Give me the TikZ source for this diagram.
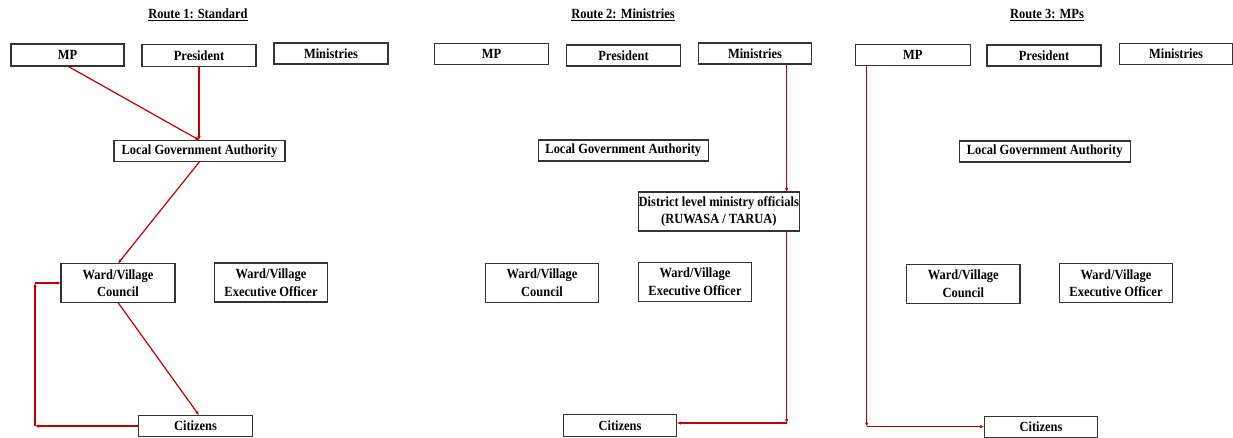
\documentclass[tikz,border=0pt]{standalone}
\usepackage{fontspec}
\setmainfont{Liberation Serif}[FakeStretch=0.89]
\usetikzlibrary{arrows.meta,calc}
\definecolor{linkred}{HTML}{C00000}
\definecolor{boxgray}{HTML}{333333}
\tikzset{
  box/.style={draw=boxgray, line width=1.1pt, inner sep=0pt, outer sep=0pt, align=center,
    font=\fontsize{14}{17.5}\selectfont\bfseries},
  ttl/.style={inner sep=0pt, font=\fontsize{14}{17}\selectfont\bfseries},
  arr/.style={draw=linkred, line width=1.2pt, -{Latex[length=4pt,width=3.4pt]}},
}
\begin{document}
\begin{tikzpicture}[x=1pt,y=-1pt]
\useasboundingbox (0,0) rectangle (1233,438);
% ---------- Route 1 ----------
\node[ttl] (t1) at (198,15) {\underline{Route 1: Standard}};
\node[box, minimum width=113pt, minimum height=22pt] (mp1) at (67.5,55) {MP};
\node[box, minimum width=114pt, minimum height=21.5pt] (pr1) at (199,55.5) {President};
\node[box, minimum width=114pt, minimum height=21pt] (mi1) at (331,53.5) {Ministries};
\node[box, minimum width=171pt, minimum height=21.5pt] (lga1) at (199.5,151) {Local Government Authority};
\node[box, minimum width=114pt, minimum height=39pt] (wc1) at (118,283) {Ward/Village\\Council};
\node[box, minimum width=113.5pt, minimum height=39pt] (we1) at (271,282.5) {Ward/Village\\Executive Officer};
\node[box, minimum width=113.5pt, minimum height=21.5pt] (ci1) at (195.5,426) {Citizens};
\coordinate (c1a) at (35,426);
\coordinate (c1b) at (35,283);
\draw[arr] (mp1.south) -- (lga1.north);
\draw[arr] (pr1.south) -- (pr1.south |- lga1.north);
\draw[arr] (lga1.south) -- (wc1.north);
\draw[arr] (wc1.south) -- ([xshift=3.5pt]ci1.north);
\draw[arr] (ci1.west) -- (c1a);
\draw[arr] (c1a) -- (c1b);
\draw[arr] (c1b) -- (wc1.west);
% ---------- Route 2 ----------
\node[ttl] (t2) at (623,15) {\underline{Route 2: Ministries}};
\node[box, minimum width=113.5pt, minimum height=21pt] (mp2) at (491.5,54) {MP};
\node[box, minimum width=113.5pt, minimum height=21pt] (pr2) at (623.5,55.5) {President};
\node[box, minimum width=113.5pt, minimum height=21pt] (mi2) at (755,53.5) {Ministries};
\node[box, minimum width=170pt, minimum height=21pt] (lga2) at (623.3,150.5) {Local Government Authority};
\node[box, minimum width=161pt, minimum height=39pt] (dl2) at (718.8,211.5) {District level ministry officials\\(RUWASA / TARUA)};
\node[box, minimum width=113.7pt, minimum height=39.3pt] (wc2) at (542,282.7) {Ward/Village\\Council};
\node[box, minimum width=113.7pt, minimum height=39pt] (we2) at (695,281.8) {Ward/Village\\Executive Officer};
\node[box, minimum width=113.7pt, minimum height=22.4pt] (ci2) at (620,425.5) {Citizens};
\coordinate (r2) at (786.7,0);
\coordinate (c2a) at (786.7,423);
\draw[arr] (mi2.south -| r2) -- (dl2.north -| r2);
\draw[arr] (dl2.south -| r2) -- (c2a);
\draw[arr] (c2a) -- (ci2.east |- c2a);
% ---------- Route 3 ----------
\node[ttl] (t3) at (1047,15) {\underline{Route 3: MPs}};
\node[box, minimum width=114.7pt, minimum height=21.3pt] (mp3) at (912.7,55.3) {MP};
\node[box, minimum width=114pt, minimum height=21pt] (pr3) at (1044,55.5) {President};
\node[box, minimum width=113.7pt, minimum height=21.4pt] (mi3) at (1176,54) {Ministries};
\node[box, minimum width=170.7pt, minimum height=21pt] (lga3) at (1044.7,151.5) {Local Government Authority};
\node[box, minimum width=113.3pt, minimum height=39pt] (wc3) at (963.3,283.8) {Ward/Village\\Council};
\node[box, minimum width=113.3pt, minimum height=39pt] (we3) at (1116,283.2) {Ward/Village\\Executive Officer};
\node[box, minimum width=113.7pt, minimum height=21.3pt] (ci3) at (1041,426.7) {Citizens};
\coordinate (r3) at (866.7,0);
\coordinate (c3a) at (866.7,426.7);
\draw[arr] (mp3.south -| r3) -- (c3a);
\draw[arr] (c3a) -- (ci3.west);
\end{tikzpicture}
\end{document}
